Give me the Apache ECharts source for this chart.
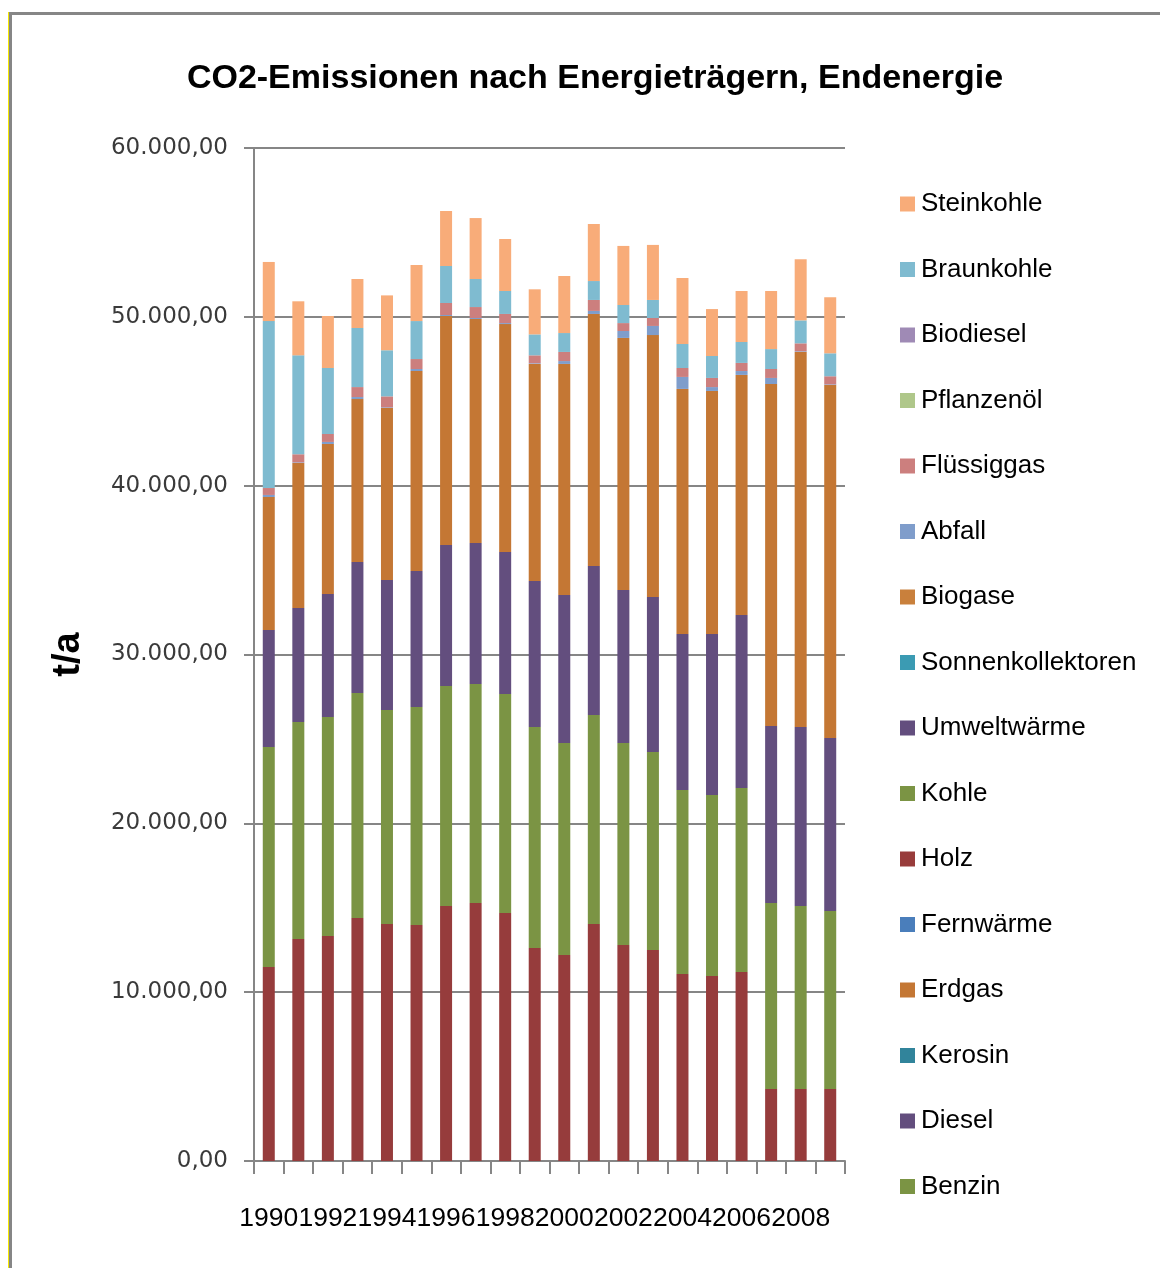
<!DOCTYPE html>
<html>
<head>
<meta charset="utf-8">
<script src="https://cdn.jsdelivr.net/npm/echarts@6/dist/echarts.min.js"></script>
<style>
  html, body { margin: 0; padding: 0; background: #fff; }
  #chart { width: 1160px; height: 1268px; }
</style>
</head>
<body>
<div id="chart"></div>
<script>
// Jahre
const years = ['1990','1991','1992','1993','1994','1995','1996','1997','1998','1999',
  '2000','2001','2002','2003','2004','2005','2006','2007','2008','2009'];

// t/a je Energieträger
const strom = [11490,13150,13330,14390,14040,13980,15100,15280,14690,12620,12200,14040,12790,12500,11080,10960,11190,4260,4260,4260];
const benzin = [13030,12850,12970,13330,12670,12910,13030,12970,12970,13090,12560,12380,11970,11720,10890,10720,10900,11020,10840,10550];
const diesel = [6930,6750,7280,7760,7700,8060,8360,8350,8410,8640,8760,8820,9060,9190,9240,9530,10250,10490,10610,10240];
const kerosin = [0,0,0,0,0,0,0,0,0,0,0,0,0,0,0,0,0,0,0,0];
const erdgas = [7880,8590,8890,9650,10190,11840,13560,13270,13500,12860,13690,14930,14930,15510,14520,14400,14220,20250,22210,20910];
const fernwaerme = [0,0,0,0,0,0,0,0,0,0,0,0,0,0,0,0,0,0,0,0];
const holz = [0,0,0,0,0,0,0,0,0,0,0,0,0,0,0,0,0,0,0,0];
const kohle = [0,0,0,0,0,0,0,0,0,0,0,0,0,0,0,0,0,0,0,0];
const umweltwaerme = [0,0,0,0,0,0,0,0,0,0,0,0,0,0,0,0,0,0,0,0];
const sonnenkollektoren = [0,0,0,0,0,0,0,0,0,0,0,0,0,0,0,0,0,0,0,0];
const biogase = [0,0,0,0,0,0,0,0,0,0,0,0,0,0,0,0,0,0,0,0];
const abfall = [120,40,120,120,40,120,60,60,60,40,170,180,410,540,710,230,230,360,40,40];
const fluessiggas = [410,480,470,590,650,590,710,650,540,470,540,650,470,470,530,540,480,530,470,480];
const pflanzenoel = [0,0,0,0,0,0,0,0,0,0,0,0,0,0,0,0,0,0,0,0];
const biodiesel = [0,0,0,0,0,0,0,0,0,0,0,0,0,0,0,0,0,0,0,0];
const braunkohle = [9890,5860,3910,3500,2730,2250,2190,1660,1360,1240,1120,1120,1070,1070,1420,1300,1240,1180,1360,1360];
const steinkohle = [3500,3200,3080,2900,3250,3320,3260,3610,3080,2670,3380,3380,3500,3260,3910,2780,3020,3440,3620,3320];

const yTicks = [0, 10000, 20000, 30000, 40000, 50000, 60000];

// Reihenfolge von unten nach oben
const stack = [
  ['Strom', strom, '#963c3c'],
  ['Benzin', benzin, '#7b9444'],
  ['Diesel', diesel, '#634e7e'],
  ['Kerosin', kerosin, '#31849b'],
  ['Erdgas', erdgas, '#c47734'],
  ['Fernwärme', fernwaerme, '#4a7ebb'],
  ['Holz', holz, '#983c3b'],
  ['Kohle', kohle, '#7b9444'],
  ['Umweltwärme', umweltwaerme, '#634e7e'],
  ['Sonnenkollektoren', sonnenkollektoren, '#3b9bb3'],
  ['Biogase', biogase, '#c9803c'],
  ['Abfall', abfall, '#7f9dcb'],
  ['Flüssiggas', fluessiggas, '#cc7f7e'],
  ['Pflanzenöl', pflanzenoel, '#afc78a'],
  ['Biodiesel', biodiesel, '#9f8ab5'],
  ['Braunkohle', braunkohle, '#7fbbd0'],
  ['Steinkohle', steinkohle, '#f8ac79']
];

// Strom passt nicht mehr in die Legende
const legendNames = stack.map(s => s[0]).filter(n => n !== 'Strom').reverse();

function deNumber(v) {
  const s = String(Math.round(v)).replace(/\B(?=(\d{3})+(?!\d))/g, '.');
  return s + ',00';
}

const myChart = echarts.init(document.getElementById('chart'));

const option = {
  backgroundColor: '#fff',
  animation: false,
  title: {
    text: 'CO2-Emissionen nach Energieträgern, Endenergie',
    left: 590,
    textAlign: 'center',
    top: 57,
    textStyle: {
      fontFamily: 'Liberation Sans',
      fontWeight: 'bold',
      fontSize: 34,
      color: '#000'
    }
  },
  legend: {
    data: legendNames,
    orient: 'vertical',
    left: 900,
    top: 191,
    padding: 0,
    itemWidth: 15,
    itemHeight: 15,
    itemGap: 39.5,
    icon: 'rect',
    textStyle: {
      fontFamily: 'Liberation Sans',
      fontSize: 26,
      lineHeight: 26,
      color: '#000',
      padding: [0, 0, 0, 1]
    }
  },
  grid: {
    left: 254,
    right: 315,
    top: 148,
    bottom: 107,
    containLabel: false
  },
  xAxis: {
    type: 'category',
    data: years,
    axisLine: { lineStyle: { color: '#868686', width: 2 } },
    axisTick: { show: true, interval: 0, length: 13, lineStyle: { color: '#868686', width: 2 } },
    axisLabel: {
      interval: 1,
      margin: 44,
      fontFamily: 'Liberation Sans',
      fontSize: 26.5,
      color: '#000'
    },
    splitLine: { show: false }
  },
  yAxis: {
    type: 'value',
    min: 0,
    max: 60000,
    interval: 10000,
    name: 't/a',
    nameLocation: 'middle',
    nameGap: 166,
    nameTextStyle: {
      fontFamily: 'Liberation Sans',
      fontWeight: 'bold',
      fontSize: 38,
      color: '#000'
    },
    axisLine: { show: true, lineStyle: { color: '#868686', width: 2 } },
    axisTick: { show: true, length: 10, lineStyle: { color: '#868686', width: 2 } },
    axisLabel: {
      margin: 26,
      fontFamily: 'DejaVu Sans',
      fontSize: 23,
      color: '#3a3a3a',
      formatter: v => yTicks.includes(v) ? deNumber(v) : ''
    },
    splitLine: { lineStyle: { color: '#868686', width: 2 } }
  },
  graphic: [
    { type: 'line', shape: { x1: 8.5, y1: 12, x2: 8.5, y2: 1268 }, style: { stroke: '#f5e800', lineWidth: 1 } },
    { type: 'line', shape: { x1: 10.5, y1: 12, x2: 10.5, y2: 1268 }, style: { stroke: '#868686', lineWidth: 3 } },
    { type: 'line', shape: { x1: 9, y1: 13.5, x2: 1160, y2: 13.5 }, style: { stroke: '#868686', lineWidth: 3 } }
  ],
  series: stack.map(([name, values, color]) => ({
    name: name,
    type: 'bar',
    stack: 'total',
    data: values,
    barWidth: 12,
    itemStyle: { color: color }
  }))
};

option && myChart.setOption(option);
</script>
</body>
</html>
